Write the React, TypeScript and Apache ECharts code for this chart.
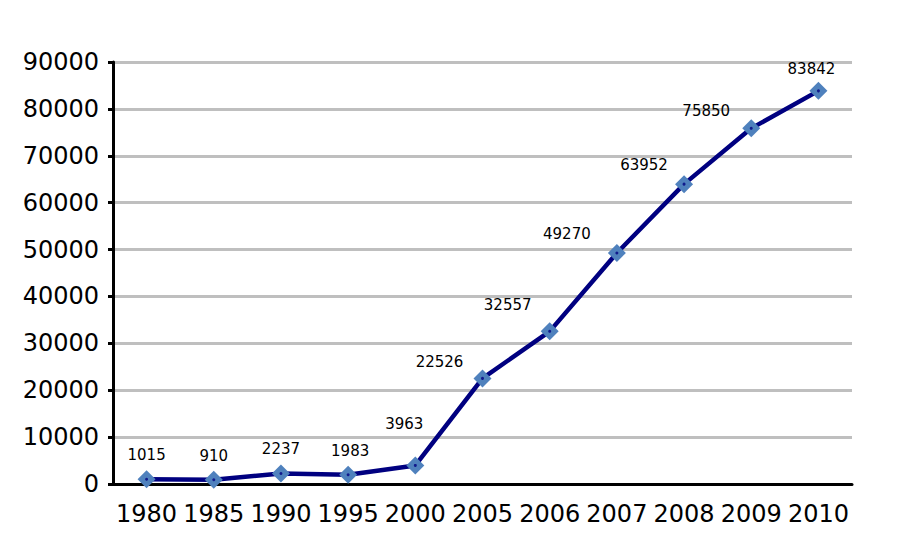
import React, { useEffect, useRef } from "react";
import * as echarts from "echarts";

const categories = ["1980", "1985", "1990", "1995", "2000", "2005", "2006", "2007", "2008", "2009", "2010"];
const values = [1015, 910, 2237, 1983, 3963, 22526, 32557, 49270, 63952, 75850, 83842];
const labelOffsets: [number, number][] = [
  [0, -3], [0, -2], [0, -3], [2, -2], [-11, -20], [-43, 5], [-42, -5], [-50, 3], [-40, 2], [-45, 4], [-7, 0],
];

export default function App() {
  const ref = useRef<HTMLDivElement>(null);
  useEffect(() => {
    const chart = echarts.init(ref.current!, null, { renderer: "svg" });
    chart.setOption({
      animation: false,
      backgroundColor: "#ffffff",
      grid: { left: 113, right: 46, top: 62, bottom: 63 },
      xAxis: {
        type: "category",
        data: categories,
        boundaryGap: true,
        axisLine: { lineStyle: { color: "#000", width: 3 } },
        axisTick: { show: false },
        axisLabel: { color: "#000", fontSize: 24, fontFamily: "DejaVu Sans", margin: 18, interval: 0 },
      },
      yAxis: {
        type: "value",
        min: 0,
        max: 90000,
        interval: 10000,
        axisLine: { show: true, lineStyle: { color: "#000", width: 3 } },
        axisTick: { show: true, length: 5, lineStyle: { color: "#000", width: 3 } },
        axisLabel: {
          color: "#000",
          fontSize: 24,
          fontFamily: "DejaVu Sans",
          margin: 14,
          formatter: (v: number) => String(v),
        },
        splitLine: { lineStyle: { color: "#BFBFBF", width: 3 } },
      },
      series: [
        {
          type: "line",
          data: values.map((v, i) => ({
            value: v,
            label: { offset: labelOffsets[i] },
          })),
          lineStyle: { color: "#000080", width: 4.5 },
          symbol: "diamond",
          symbolSize: 18,
          itemStyle: { color: "#4F81BD" },
          label: {
            show: true,
            position: "top",
            color: "#000",
            fontSize: 15,
            fontFamily: "DejaVu Sans",
          },
          z: 3,
        },
        {
          type: "scatter",
          data: values,
          symbol: "circle",
          symbolSize: 3,
          itemStyle: { color: "#000080" },
          silent: true,
          z: 4,
        },
      ],
    });
    return () => chart.dispose();
  }, []);
  return <div ref={ref} style={{ width: 898, height: 547, position: "absolute", left: 0, top: 0 }} />;
}
